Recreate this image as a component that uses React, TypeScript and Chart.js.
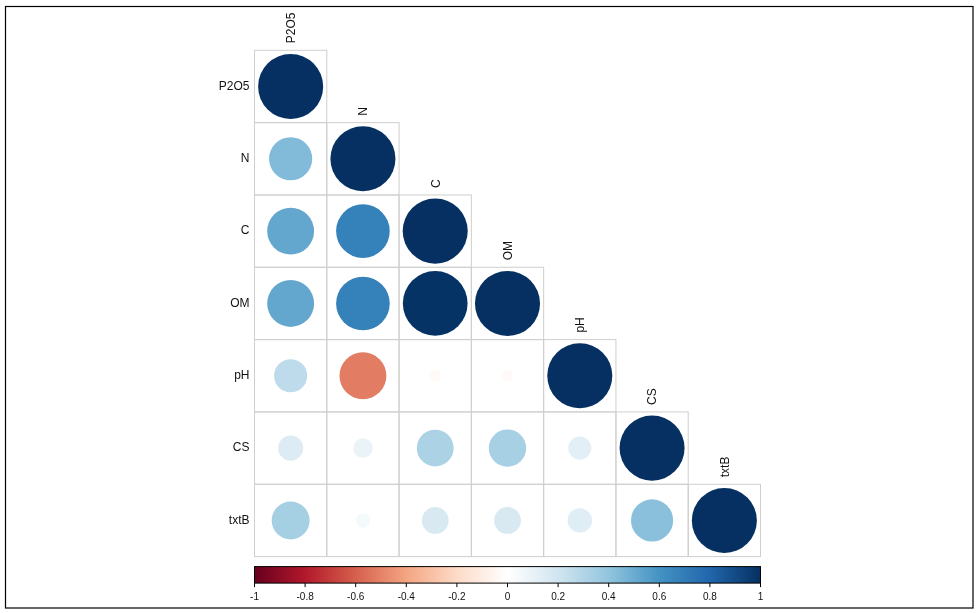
import React, { useEffect, useRef } from "react";
import { Chart, registerables } from "chart.js";

Chart.register(...registerables);

const variables = ["P2O5", "N", "C", "OM", "pH", "CS", "txtB"];

// lower-triangle correlations, one array per row
const rowP2O5 = [1];
const rowN = [0.44, 1];
const rowC = [0.52, 0.68, 1];
const rowOM = [0.52, 0.68, 0.99, 1];
const rowPH = [0.26, -0.52, -0.03, -0.03, 1];
const rowCS = [0.15, 0.09, 0.32, 0.33, 0.125, 1];
const rowTxtB = [0.34, 0.05, 0.17, 0.17, 0.14, 0.42, 1];
const corrRows = [rowP2O5, rowN, rowC, rowOM, rowPH, rowCS, rowTxtB];

const colorbarTicks = ["-1", "-0.8", "-0.6", "-0.4", "-0.2", "0", "0.2", "0.4", "0.6", "0.8", "1"];
const palette = ["#67001F", "#B2182B", "#D6604D", "#F4A582", "#FDDBC7", "#FFFFFF", "#D1E5F0", "#92C5DE", "#4393C3", "#2166AC", "#053061"];

function hexToRgb(h: string) {
  const n = parseInt(h.slice(1), 16);
  return [(n >> 16) & 255, (n >> 8) & 255, n & 255];
}
function colorFor(v: number) {
  const t = ((v + 1) / 2) * (palette.length - 1);
  const i = Math.min(Math.floor(t), palette.length - 2);
  const f = t - i;
  const a = hexToRgb(palette[i]);
  const b = hexToRgb(palette[i + 1]);
  const c = a.map((x, k) => Math.round(x + (b[k] - x) * f));
  return `rgb(${c[0]},${c[1]},${c[2]})`;
}

const FONT = "'Liberation Sans', Arial, sans-serif";

export default function App() {
  const ref = useRef<HTMLCanvasElement>(null);
  useEffect(() => {
    document.body.style.margin = "0";
    const points: any[] = [];
    corrRows.forEach((row, i) =>
      row.forEach((v, j) => points.push({ x: j + 0.5, y: i + 0.5, v }))
    );
    const n = variables.length;

    const decor = {
      id: "decor",
      beforeDatasetsDraw(chart: any) {
        const { ctx } = chart;
        const xs = chart.scales.x;
        const ys = chart.scales.y;
        ctx.save();
        ctx.strokeStyle = "#cfcfcf";
        ctx.lineWidth = 1;
        for (let i = 0; i < n; i++) {
          for (let j = 0; j <= i; j++) {
            const x0 = xs.getPixelForValue(j);
            const x1 = xs.getPixelForValue(j + 1);
            const y0 = ys.getPixelForValue(i);
            const y1 = ys.getPixelForValue(i + 1);
            ctx.strokeRect(x0, y0, x1 - x0, y1 - y0);
          }
        }
        ctx.restore();
      },
      afterDraw(chart: any) {
        const { ctx } = chart;
        const xs = chart.scales.x;
        const ys = chart.scales.y;
        ctx.save();
        // row labels
        ctx.fillStyle = "#111";
        ctx.font = `12px ${FONT}`;
        ctx.textAlign = "right";
        ctx.textBaseline = "middle";
        variables.forEach((name, i) => {
          ctx.fillText(name, xs.left - 5, ys.getPixelForValue(i + 0.5));
        });
        // column labels (rotated)
        variables.forEach((name, j) => {
          const cx = xs.getPixelForValue(j + 0.5);
          const top = ys.getPixelForValue(j);
          ctx.save();
          ctx.translate(cx + 1, top - 7);
          ctx.rotate(-Math.PI / 2);
          ctx.textAlign = "left";
          ctx.textBaseline = "middle";
          ctx.fillText(name, 0, 0);
          ctx.restore();
        });
        // colorbar
        const bx0 = xs.left;
        const bx1 = xs.right;
        const by0 = ys.bottom + 10;
        const by1 = by0 + 16.5;
        const g = ctx.createLinearGradient(bx0, 0, bx1, 0);
        palette.forEach((c, k) => g.addColorStop(k / (palette.length - 1), c));
        ctx.fillStyle = g;
        ctx.fillRect(bx0, by0, bx1 - bx0, by1 - by0);
        ctx.strokeStyle = "#000";
        ctx.lineWidth = 1;
        ctx.strokeRect(bx0, by0, bx1 - bx0, by1 - by0);
        ctx.font = `10px ${FONT}`;
        ctx.fillStyle = "#111";
        ctx.textAlign = "center";
        ctx.textBaseline = "middle";
        colorbarTicks.forEach((lab) => {
          const v = parseFloat(lab);
          const px = bx0 + ((v + 1) / 2) * (bx1 - bx0);
          ctx.beginPath();
          ctx.moveTo(px, by1);
          ctx.lineTo(px, by1 + 4);
          ctx.stroke();
          ctx.fillText(lab, px, by1 + 14.5);
        });
        // outer frame
        ctx.strokeStyle = "#000";
        ctx.lineWidth = 1.2;
        ctx.strokeRect(5.5, 6.5, 967.5, 601.5);
        ctx.restore();
      },
    };

    const chart = new Chart(ref.current as HTMLCanvasElement, {
      type: "scatter",
      data: {
        datasets: [
          {
            data: points,
            pointBackgroundColor: (c: any) => colorFor(c.raw ? c.raw.v : 0),
            pointBorderWidth: 0,
            pointBorderColor: "rgba(0,0,0,0)",
            pointRadius: (c: any) => {
              const xs = c.chart.scales.x;
              const cell = Math.abs(xs.getPixelForValue(1) - xs.getPixelForValue(0));
              const v = c.raw ? c.raw.v : 0;
              const r = 0.45 * Math.sqrt(Math.abs(v)) * cell;
              return isFinite(r) ? r : 0;
            },
          } as any,
        ],
      },
      options: {
        responsive: false,
        animation: false,
        events: [],
        layout: { padding: { left: 254.5, right: 218.5, top: 50.3, bottom: 56.4 } },
        scales: {
          x: { type: "linear", min: 0, max: n, display: false },
          y: { type: "linear", min: 0, max: n, reverse: true, display: false },
        },
        plugins: { legend: { display: false }, tooltip: { enabled: false } },
      },
      plugins: [decor],
    });
    return () => chart.destroy();
  }, []);
  return <canvas ref={ref} width={979} height={613} style={{ display: "block", background: "#fff" }} />;
}
